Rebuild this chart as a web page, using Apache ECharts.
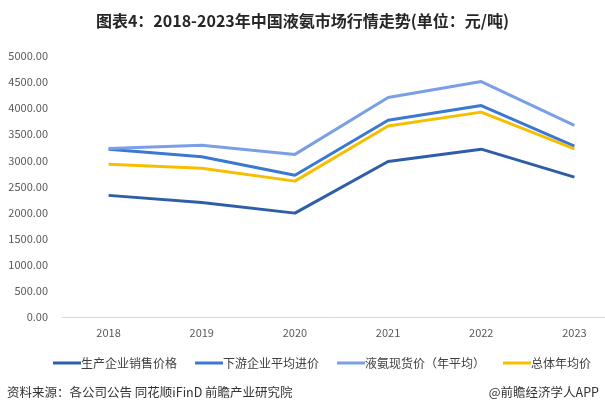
<!DOCTYPE html>
<html>
<head>
<meta charset="utf-8">
<script src="https://cdn.jsdelivr.net/npm/echarts@6/dist/echarts.min.js"></script>
<style>
  html, body { margin: 0; padding: 0; background: #fff; }
  #chart { width: 605px; height: 417px; }
</style>
</head>
<body>
<div id="chart"></div>
<script>
  // 数据
  var years = ['2018', '2019', '2020', '2021', '2022', '2023']
  var producerPrice = [2330, 2195, 1990, 2980, 3215, 2680]
  var downstreamPrice = [3215, 3070, 2715, 3770, 4050, 3275]
  var spotPrice = [3230, 3290, 3115, 4205, 4510, 3670]
  var overallPrice = [2925, 2848, 2603, 3658, 3925, 3222]

  var font = '"Microsoft YaHei", "Noto Sans CJK SC", sans-serif'

  function line(name, data, color) {
    return {
      name: name,
      type: 'line',
      data: data,
      symbol: 'none',
      lineStyle: { color: color, width: 3 },
      itemStyle: { color: color },
      animation: false
    }
  }

  var chart = echarts.init(document.getElementById('chart'))
  chart.setOption({
    backgroundColor: '#fff',
    title: {
      text: '图表4：2018-2023年中国液氨市场行情走势(单位：元/吨)',
      left: 'center',
      top: 8,
      textStyle: { fontFamily: font, fontSize: 16, fontWeight: 'bold', color: '#262626' }
    },
    graphic: [
      {
        type: 'text', left: 7, top: 386,
        style: { text: '资料来源：各公司公告 同花顺iFinD 前瞻产业研究院', font: '12.5px ' + font, fill: '#333' }
      },
      {
        type: 'text', right: 6, top: 386,
        style: { text: '@前瞻经济学人APP', font: '12.5px ' + font, fill: '#333' }
      }
    ],
    legend: {
      bottom: 43,
      left: 48,
      width: 580,
      itemWidth: 28,
      itemHeight: 3,
      itemGap: 18,
      icon: 'rect',
      textStyle: { fontFamily: font, fontSize: 12, color: '#404040', padding: [0, 0, 0, -5] },
      data: ['生产企业销售价格', '下游企业平均进价', '液氨现货价（年平均）', '总体年均价']
    },
    grid: {
      left: 62,
      right: -16,
      top: 56,
      bottom: 100,
      outerBoundsMode: 'none'
    },
    xAxis: {
      type: 'category',
      data: years,
      axisTick: { show: false },
      axisLine: { lineStyle: { color: '#d9d9d9' } },
      axisLabel: { fontFamily: font, fontSize: 11, color: '#595959', margin: 10 }
    },
    yAxis: {
      type: 'value',
      min: 0,
      max: 5000,
      interval: 500,
      splitLine: { show: false },
      axisLine: { show: false },
      axisTick: { show: false },
      axisLabel: {
        fontFamily: font, fontSize: 11, color: '#595959', margin: 14,
        formatter: function (v) { return v.toFixed(2) }
      }
    },
    series: [
      line('生产企业销售价格', producerPrice, '#2F5EA8'),
      line('下游企业平均进价', downstreamPrice, '#3A78D2'),
      line('液氨现货价（年平均）', spotPrice, '#7B9FE6'),
      line('总体年均价', overallPrice, '#F6BE00')
    ]
  })
</script>
</body>
</html>
